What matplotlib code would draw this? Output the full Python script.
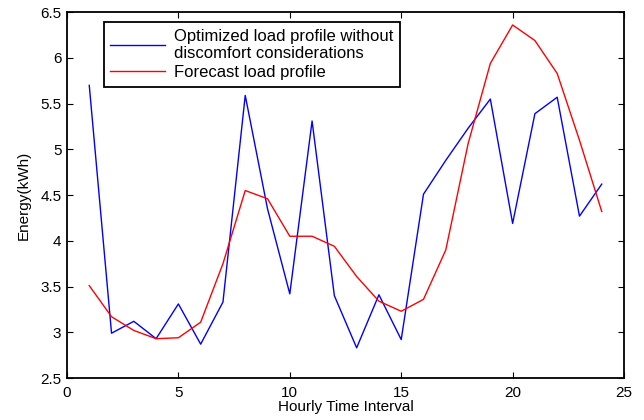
import numpy as np
import matplotlib.pyplot as plt

plt.rcParams['font.family'] = ['Liberation Sans', 'DejaVu Sans']

hours = list(range(1, 25))
optimized = [5.70, 2.99, 3.12, 2.93, 3.31, 2.87, 3.33, 5.59, 4.35, 3.42, 5.31, 3.40,
             2.83, 3.41, 2.92, 4.51, 4.88, 5.23, 5.55, 4.19, 5.39, 5.57, 4.27, 4.62]
forecast = [3.51, 3.17, 3.02, 2.93, 2.94, 3.11, 3.75, 4.55, 4.46, 4.05, 4.05, 3.94,
            3.61, 3.34, 3.23, 3.36, 3.90, 5.06, 5.94, 6.36, 6.19, 5.83, 5.10, 4.32]

fig = plt.figure(figsize=(6.44, 4.2), dpi=100)
ax = fig.add_axes([0.104, 0.1, 0.865, 0.871])

ax.plot(hours, optimized, color='blue', linewidth=1,
        label='Optimized load profile without\ndiscomfort considerations')
ax.plot(hours, forecast, color='red', linewidth=1, label='Forecast load profile')

ax.set_xlim(0, 25)
ax.set_ylim(2.5, 6.5)
ax.set_xticks(np.arange(0, 26, 5))
ax.set_yticks(np.arange(2.5, 6.6, 0.5))
ax.set_yticklabels(['2.5', '3', '3.5', '4', '4.5', '5', '5.5', '6', '6.5'])
ax.tick_params(direction='in', top=True, right=True, labelsize=11, length=4)
ax.tick_params(axis='x', pad=6)
ax.tick_params(axis='y', pad=4)
for s in ax.spines.values():
    s.set_linewidth(1.3)
ax.set_xlabel('Hourly Time Interval', fontsize=11, labelpad=0)
ax.set_ylabel('Energy(kWh)', fontsize=11, labelpad=7)

leg = ax.legend(loc='upper left', bbox_to_anchor=(0.066, 0.973), fontsize=12,
                fancybox=False, edgecolor='black', framealpha=1,
                handlelength=3.3, borderpad=0.4, labelspacing=0.25,
                handletextpad=0.5, borderaxespad=0)
leg.get_frame().set_linewidth(1.3)

plt.savefig('out.png')
plt.close()
